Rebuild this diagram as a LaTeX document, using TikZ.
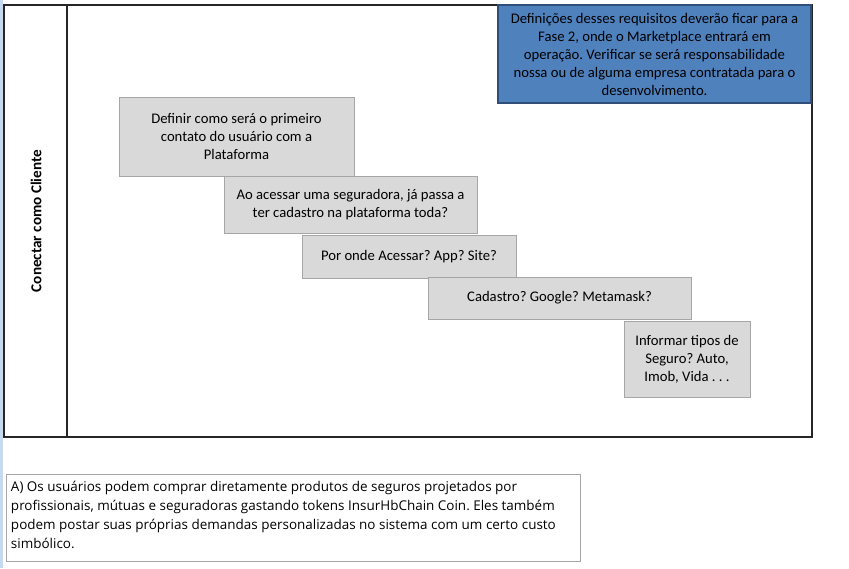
\documentclass[tikz,border=0pt]{standalone}
\usepackage{fontspec}
\setmainfont{Carlito}
\newfontfamily\notefont{Open Sans}
\frenchspacing
\definecolor{boxgray}{HTML}{D9D9D9}
\definecolor{boxline}{HTML}{A6A6A6}
\definecolor{noteblue}{HTML}{4F81BD}
\definecolor{noteline}{HTML}{2F4F7A}
\definecolor{stripblue}{HTML}{C6D9F0}
\begin{document}
\begin{tikzpicture}[x=0.75pt, y=-0.75pt,
      every node/.style={inner sep=0pt, outer sep=0pt, font=\fontsize{11}{13.5}\selectfont},
      question/.style={rectangle, draw=boxline, fill=boxgray, line width=0.5pt, align=center},
      remark/.style={rectangle, draw=noteline, fill=noteblue, line width=0.9pt, align=center},
      frame/.style={draw=black!85, line width=0.9pt}]
      \useasboundingbox (0,0) rectangle (849,568);
      % Left strip
      \fill[stripblue] (0,0) rectangle (3,568);
      % Swimlane frame
      \draw[frame] (4,5) rectangle (812,437);
      \draw[frame] (67,5) -- (67,437);
      \node (lane) [rotate=90, font=\fontsize{11.4}{13.5}\selectfont\bfseries] at (36,221) {Conectar como Cliente};
      % Remark
      \node (remark) [remark, minimum width=234.75pt, minimum height=73.5pt] at (654.5,54)
        {Definições desses requisitos deverão ficar para a\\ Fase 2, onde o Marketplace entrará em\\ operação. Verificar se será responsabilidade\\ nossa ou de alguma empresa contratada para o\\ desenvolvimento.};
      % Steps
      \node (primeiro) [question, minimum width=176.25pt, minimum height=59.25pt] at (236.5,136.5)
        {Definir como será o primeiro\\ contato do usuário com a\\ Plataforma};
      \node (seguradora) [question, minimum width=189.75pt, minimum height=42.75pt] at (350.5,204.5)
        {Ao acessar uma seguradora, já passa a\\ ter cadastro na plataforma toda?};
      \node (acesso) [question, minimum width=160.5pt, minimum height=32.25pt] at (409,256.5)
        {Por onde Acessar? App? Site?};
      \node (cadastro) [question, minimum width=197.25pt, minimum height=31.5pt] at (559.5,298)
        {Cadastro? Google? Metamask?};
      \node (tipos) [question, minimum width=94.5pt, minimum height=57pt] at (687,359)
        {Informar tipos de\\ Seguro? Auto,\\ Imob, Vida . . .};
      % Note
      \node (notebox) [draw=boxline, line width=0.6pt, minimum width=430.5pt, minimum height=65.25pt] at (293,517.5) {};
      \node (notetext) [anchor=north west, align=left, font=\notefont\fontsize{10.1}{14.25}\selectfont] at (11,481)
        {A) Os usuários podem comprar diretamente produtos de seguros projetados por\\
         profissionais, mútuas e seguradoras gastando tokens InsurHbChain Coin. Eles também\\
         podem postar suas próprias demandas personalizadas no sistema com um certo custo\\
         simbólico.};
\end{tikzpicture}
\end{document}
